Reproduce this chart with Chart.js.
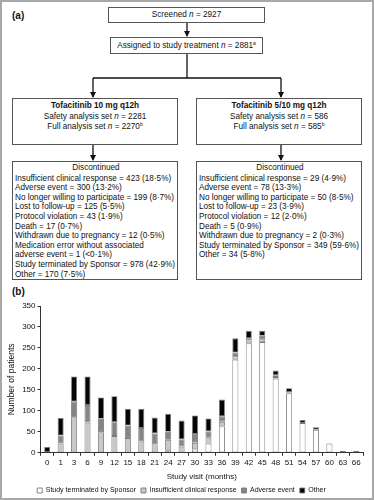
<!DOCTYPE html>
<html>
<head>
<meta charset="utf-8">
<script src="https://cdn.jsdelivr.net/npm/chart.js@4"></script>
<style>
  body { margin: 0; background: #fff; }
  #frame {
    position: relative; width: 374px; height: 500px; box-sizing: border-box;
    border: 2px solid #a8a8a8; overflow: hidden;
    font-family: "Liberation Sans", Arial, sans-serif; color: #111;
  }
  .panel { position: absolute; font-weight: bold; font-size: 10px; }
  .box {
    position: absolute; box-sizing: border-box; border: 1px solid #555;
    font-size: 8.2px; line-height: 10.6px; background: #fff; white-space: nowrap;
  }
  .center { text-align: center; }
  .list { padding: 1px 0 0 2px; line-height: 9.6px; }
  .list .hd { text-align: center; margin-bottom: 1px; }
  sup { font-size: 5px; vertical-align: 3px; line-height: 0; }
  svg { position: absolute; left: 0; top: 0; }
  #chartWrap { position: absolute; left: -2px; top: 280px; width: 374px; height: 222px; }
</style>
</head>
<body>
<div id="frame">
  <svg width="374" height="500">
    <defs>
      <marker id="ah" markerWidth="6" markerHeight="6" refX="5" refY="3" orient="auto" markerUnits="userSpaceOnUse">
        <path d="M0,0 L6,3 L0,6 z" fill="#111"/>
      </marker>
    </defs>
    <g stroke="#111" stroke-width="1.3" fill="none">
      <line x1="185" y1="21" x2="185" y2="34" marker-end="url(#ah)"/>
      <line x1="185" y1="52" x2="185" y2="76"/>
      <line x1="91" y1="76" x2="279" y2="76"/>
      <line x1="91" y1="76" x2="91" y2="95" marker-end="url(#ah)"/>
      <line x1="279" y1="76" x2="279" y2="95" marker-end="url(#ah)"/>
      <line x1="91" y1="143" x2="91" y2="158" marker-end="url(#ah)"/>
      <line x1="279" y1="143" x2="279" y2="158" marker-end="url(#ah)"/>
    </g>
  </svg>

  <div class="panel" style="left:10px; top:8px;">(a)</div>
  <div class="box center" style="left:106px; top:5px; width:157px; height:16px; line-height:14px;">Screened <i>n</i> = 2927</div>
  <div class="box center" style="left:108px; top:35px; width:153px; height:17px; line-height:15px;">Assigned to study treatment <i>n</i> = 2881<sup>a</sup></div>

  <div class="box center" style="left:10px; top:96px; width:166px; height:47px; padding-top:2px;">
    <b>Tofacitinib 10 mg q12h</b><br>Safety analysis set <i>n</i> = 2281<br>Full analysis set <i>n</i> = 2270<sup>b</sup>
  </div>
  <div class="box center" style="left:194px; top:96px; width:166px; height:47px; padding-top:2px;">
    <b>Tofacitinib 5/10 mg q12h</b><br>Safety analysis set <i>n</i> = 586<br>Full analysis set <i>n</i> = 585<sup>b</sup>
  </div>

  <div class="box list" style="left:10px; top:159px; width:166px; height:119px;">
    <div class="hd">Discontinued</div>
    Insufficient clinical response = 423 (18·5%)<br>
    Adverse event = 300 (13·2%)<br>
    No longer willing to participate = 199 (8·7%)<br>
    Lost to follow-up = 125 (5·5%)<br>
    Protocol violation = 43 (1·9%)<br>
    Death = 17 (0·7%)<br>
    Withdrawn due to pregnancy = 12 (0·5%)<br>
    Medication error without associated<br>
    adverse event = 1 (&lt;0·1%)<br>
    Study terminated by Sponsor = 978 (42·9%)<br>
    Other = 170 (7·5%)
  </div>
  <div class="box list" style="left:194px; top:159px; width:166px; height:119px;">
    <div class="hd">Discontinued</div>
    Insufficient clinical response = 29 (4·9%)<br>
    Adverse event = 78 (13·3%)<br>
    No longer willing to participate = 50 (8·5%)<br>
    Lost to follow-up = 23 (3·9%)<br>
    Protocol violation = 12 (2·0%)<br>
    Death = 5 (0·9%)<br>
    Withdrawn due to pregnancy = 2 (0·3%)<br>
    Study terminated by Sponsor = 349 (59·6%)<br>
    Other = 34 (5·8%)
  </div>

  <div class="panel" style="left:10px; top:284px;">(b)</div>
  <div id="chartWrap"><canvas id="barChart"></canvas></div>
</div>

<script>
// Study visit months (x categories)
const visits = ['0','1','3','6','9','12','15','18','21','24','27','30','33','36','39','42','45','48','51','54','57','60','63','66'];

// Discontinuations per visit
const sponsorVals = [0,0,0,0,0,0,0,0,0,6,1,8,22,63,222,261,264,177,142,71,55,22,4,5];
const responseVals = [0,22,85,72,49,40,35,27,20,25,14,16,14,11,9,7,7,4,2,0,0,0,0,0];
const adverseVals = [0,19,37,42,32,33,30,32,26,19,17,21,15,13,8,5,8,4,1,0,0,0,0,0];
const otherVals = [14,42,60,68,51,62,40,46,38,43,45,44,31,40,34,18,12,11,9,7,6,0,0,0];

const yTicks = [0,50,100,150,200,250,300,350];

const fontFamily = '"Liberation Sans", Arial, sans-serif';

function makeSet(label, data, fill) {
    return {
        label: label,
        data: data,
        backgroundColor: fill,
        borderColor: '#7a7a7a',
        borderWidth: 0.9,
        borderSkipped: false,
        barPercentage: 0.45,
        categoryPercentage: 1.0
    };
}

const ctx = document.getElementById('barChart').getContext('2d');
new Chart(ctx, {
    type: 'bar',
    data: {
        labels: visits,
        datasets: [
            makeSet('Study terminated by Sponsor', sponsorVals, '#ffffff'),
            makeSet('Insufficient clinical response', responseVals, '#c8c8c8'),
            makeSet('Adverse event', adverseVals, '#858585'),
            makeSet('Other', otherVals, '#050505')
        ]
    },
    options: {
        responsive: true,
        maintainAspectRatio: false,
        devicePixelRatio: 1,
        animation: false,
        layout: { padding: { top: 24, right: 11, left: 0, bottom: 0 } },
        plugins: {
            tooltip: { enabled: false },
            legend: {
                position: 'bottom',
                labels: {
                    color: '#111',
                    font: { family: fontFamily, size: 7 },
                    boxWidth: 5,
                    boxHeight: 5,
                    padding: 5
                }
            }
        },
        scales: {
            x: {
                stacked: true,
                grid: { drawOnChartArea: false, drawTicks: true, tickLength: 3, color: '#333' },
                border: { color: '#333', width: 1 },
                ticks: { color: '#111', font: { family: fontFamily, size: 8 }, padding: 2, maxRotation: 0, autoSkip: false },
                title: { display: true, text: 'Study visit (months)', color: '#111', font: { family: fontFamily, size: 8 }, padding: { top: 3, bottom: 0 } }
            },
            y: {
                stacked: true,
                min: 0,
                max: 350,
                afterBuildTicks: function(scale) {
                    scale.ticks = yTicks.map(v => ({ value: v }));
                },
                afterFit: function(scale) {
                    scale.width = 40.5;
                },
                grid: { drawOnChartArea: false, drawTicks: true, tickLength: 3, color: '#333' },
                border: { color: '#333', width: 1 },
                ticks: { color: '#111', font: { family: fontFamily, size: 8 }, padding: 2 },
                title: { display: true, text: 'Number of patients', color: '#111', font: { family: fontFamily, size: 8.5 }, padding: { top: 7, bottom: 1 } }
            }
        }
    }
});
</script>
</body>
</html>
